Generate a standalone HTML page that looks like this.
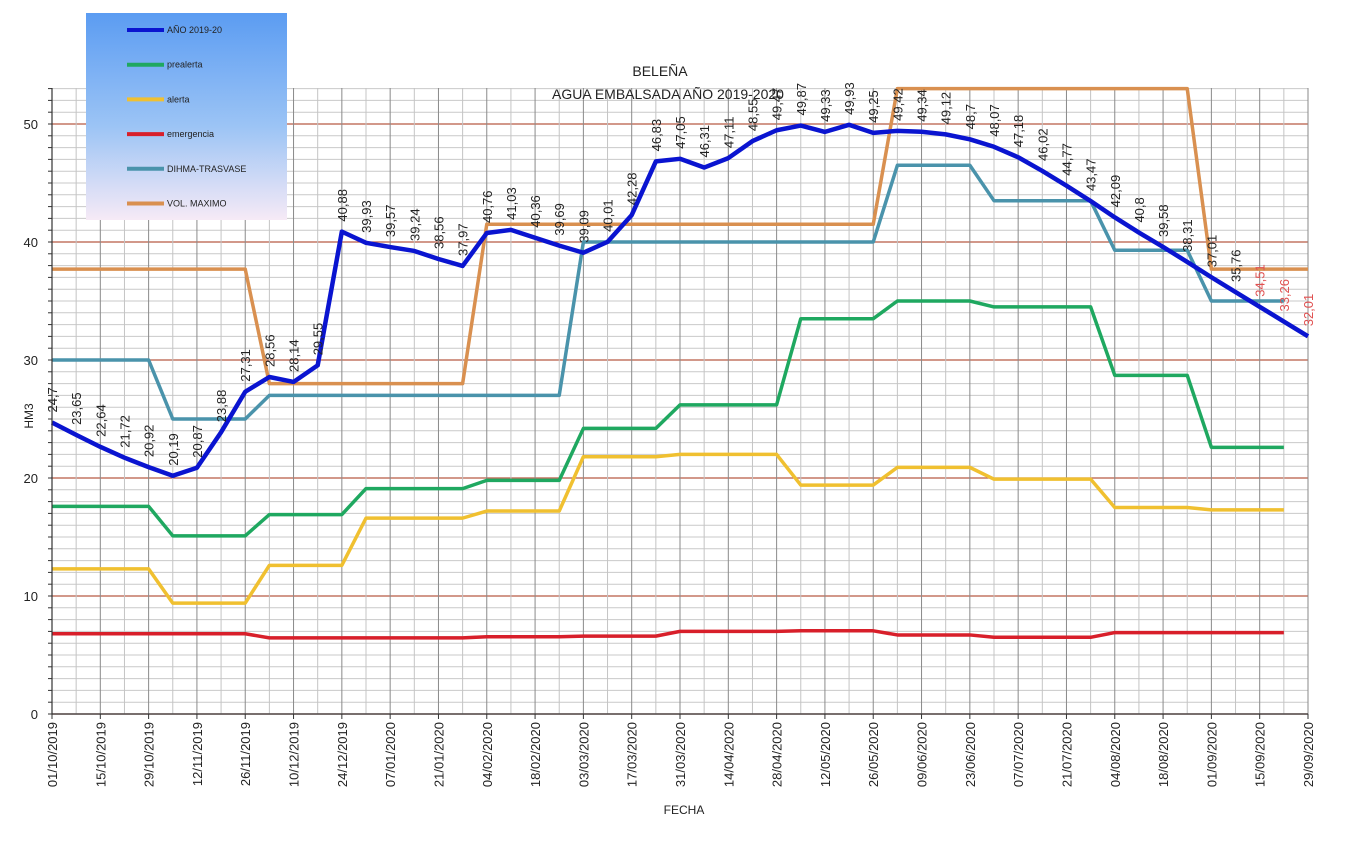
<!DOCTYPE html>
<html><head><meta charset="utf-8"><style>
body{margin:0;background:#fff;width:1366px;height:858px;overflow:hidden;font-family:"Liberation Sans",sans-serif}
svg text{font-family:"Liberation Sans",sans-serif}
</style></head><body>
<svg id="chart" width="1366" height="858" xmlns="http://www.w3.org/2000/svg">
<defs><linearGradient id="lg" x1="0" y1="0" x2="0" y2="1"><stop offset="0" stop-color="#5b9cf2"/><stop offset="0.55" stop-color="#9cc4f5"/><stop offset="1" stop-color="#f6eaf6"/></linearGradient></defs>
<g id="grid"></g>
<g id="series"></g>
<g id="labels"></g>
<g id="axes"></g>
<text x="660" y="76" font-size="14" text-anchor="middle" fill="#222">BELEÑA</text>
<text x="668" y="99" font-size="14" text-anchor="middle" fill="#222">AGUA EMBALSADA AÑO 2019-2020</text>
<text transform="translate(33,416) rotate(-90)" font-size="12" text-anchor="middle" fill="#222">HM3</text>
<text x="684" y="814" font-size="12" text-anchor="middle" fill="#222">FECHA</text>
<g>
<rect x="86" y="13" width="201" height="207" fill="url(#lg)"/>
<g id="legend-items"></g>
</g>
</svg>
<script>
const dateLabels=["01/10/2019","15/10/2019","29/10/2019","12/11/2019","26/11/2019","10/12/2019","24/12/2019","07/01/2020","21/01/2020","04/02/2020","18/02/2020","03/03/2020","17/03/2020","31/03/2020","14/04/2020","28/04/2020","12/05/2020","26/05/2020","09/06/2020","23/06/2020","07/07/2020","21/07/2020","04/08/2020","18/08/2020","01/09/2020","15/09/2020","29/09/2020"];
const yTicks=[0,10,20,30,40,50];
const anio=[24.7,23.65,22.64,21.72,20.92,20.19,20.87,23.88,27.31,28.56,28.14,29.55,40.88,39.93,39.57,39.24,38.56,37.97,40.76,41.03,40.36,39.69,39.09,40.01,42.28,46.83,47.05,46.31,47.11,48.55,49.47,49.87,49.33,49.93,49.25,49.42,49.34,49.12,48.7,48.07,47.18,46.02,44.77,43.47,42.09,40.8,39.58,38.31,37.01,35.76,34.51,33.26,32.01];
const prealerta=[17.6,17.6,17.6,17.6,17.6,15.1,15.1,15.1,15.1,16.9,16.9,16.9,16.9,19.1,19.1,19.1,19.1,19.1,19.8,19.8,19.8,19.8,24.2,24.2,24.2,24.2,26.2,26.2,26.2,26.2,26.2,33.5,33.5,33.5,33.5,35,35,35,35,34.5,34.5,34.5,34.5,34.5,28.7,28.7,28.7,28.7,22.6,22.6,22.6,22.6];
const alerta=[12.3,12.3,12.3,12.3,12.3,9.4,9.4,9.4,9.4,12.6,12.6,12.6,12.6,16.6,16.6,16.6,16.6,16.6,17.2,17.2,17.2,17.2,21.8,21.8,21.8,21.8,22,22,22,22,22,19.4,19.4,19.4,19.4,20.9,20.9,20.9,20.9,19.9,19.9,19.9,19.9,19.9,17.5,17.5,17.5,17.5,17.3,17.3,17.3,17.3];
const emergencia=[6.8,6.8,6.8,6.8,6.8,6.8,6.8,6.8,6.8,6.45,6.45,6.45,6.45,6.45,6.45,6.45,6.45,6.45,6.55,6.55,6.55,6.55,6.6,6.6,6.6,6.6,7,7,7,7,7,7.05,7.05,7.05,7.05,6.7,6.7,6.7,6.7,6.5,6.5,6.5,6.5,6.5,6.9,6.9,6.9,6.9,6.9,6.9,6.9,6.9];
const dihma=[30,30,30,30,30,25,25,25,25,27,27,27,27,27,27,27,27,27,27,27,27,27,40,40,40,40,40,40,40,40,40,40,40,40,40,46.5,46.5,46.5,46.5,43.5,43.5,43.5,43.5,43.5,39.3,39.3,39.3,39.3,35,35,35,35];
const volMax=[37.7,37.7,37.7,37.7,37.7,37.7,37.7,37.7,37.7,28,28,28,28,28,28,28,28,28,41.5,41.5,41.5,41.5,41.5,41.5,41.5,41.5,41.5,41.5,41.5,41.5,41.5,41.5,41.5,41.5,41.5,53,53,53,53,53,53,53,53,53,53,53,53,53,37.7,37.7,37.7,37.7,37.7];
const L=52,R=1308,T=88,B=714,NW=52,YMAX=53.05;
const x=i=>L+i*(R-L)/NW;
const y=v=>B-v*(B-T)/YMAX;
const NS='http://www.w3.org/2000/svg';
function mk(tag,attrs,parent){const e=document.createElementNS(NS,tag);for(const k in attrs)e.setAttribute(k,attrs[k]);parent.appendChild(e);return e;}
const grid=document.getElementById('grid'),axes=document.getElementById('axes'),ser=document.getElementById('series'),lab=document.getElementById('labels');
for(let v=0;v<=53;v++){const ln=mk('line',{x1:L,x2:R,y1:y(v),y2:y(v),stroke:v%10===0?'#b85a45':'#c9c9c9','stroke-width':v%10===0?1.2:1},grid);


const tk=mk('line',{x1:L-4,x2:L,y1:y(v),y2:y(v),stroke:'#333'},axes);

}
for(let i=0;i<=NW;i++){const ln=mk('line',{x1:x(i),x2:x(i),y1:T,y2:B,stroke:i%2===0?'#8a8a8a':'#c4c4c4'},grid);

}
const ax=mk('path',{d:`M${L},${T}V${B}H${R}`,stroke:'#333',fill:'none','stroke-width':1.2},axes);


yTicks.forEach(v=>{const t=mk('text',{x:L-14,y:y(v)+5,'font-size':13,'text-anchor':'end',fill:'#222'},axes);t.textContent=v;

});
dateLabels.forEach((d,k)=>{const xx=x(k*2);const tk=mk('line',{x1:xx,x2:xx,y1:B,y2:B+5,stroke:'#333'},axes);


const t=mk('text',{transform:`translate(${xx+5},${B+8}) rotate(-90)`,'font-size':13,'text-anchor':'end',fill:'#222'},axes);t.textContent=d;

});
function line(data,color,w,name){const p=mk('polyline',{points:data.map((v,i)=>x(i)+','+y(v)).join(' '),fill:'none',stroke:color,'stroke-width':w,'stroke-linejoin':'round'},ser);

}
line(dihma,'#4a93ab',3.5,'series-dihma-trasvase');
line(volMax,'#d99050',3.5,'series-vol-maximo');
line(prealerta,'#1fa860',3.5,'series-prealerta');
line(alerta,'#f0c030',3.5,'series-alerta');
line(emergencia,'#d81f2a',3.5,'series-emergencia');
line(anio,'#0a14d0',4.5,'series-anio-2019-20');
anio.forEach((v,i)=>{const t=mk('text',{transform:`translate(${x(i)+5},${y(v)-10}) rotate(-90)`,'font-size':13,fill:i>=50?'#e05050':'#222'},lab);t.textContent=String(v).replace('.',',');

});
const legend=[['AÑO 2019-20','#0a14d0'],['prealerta','#1fa860'],['alerta','#f0c030'],['emergencia','#d81f2a'],['DIHMA-TRASVASE','#4a93ab'],['VOL. MAXIMO','#d99050']];
const lgi=document.getElementById('legend-items');
legend.forEach((e,k)=>{const yy=30+k*34.7;const g=mk('g',{},lgi);


mk('line',{x1:127,x2:164,y1:yy,y2:yy,stroke:e[1],'stroke-width':4},g);
const t=mk('text',{x:167,y:yy+3,'font-size':9,fill:'#222'},g);t.textContent=e[0];});
</script>
</body></html>
